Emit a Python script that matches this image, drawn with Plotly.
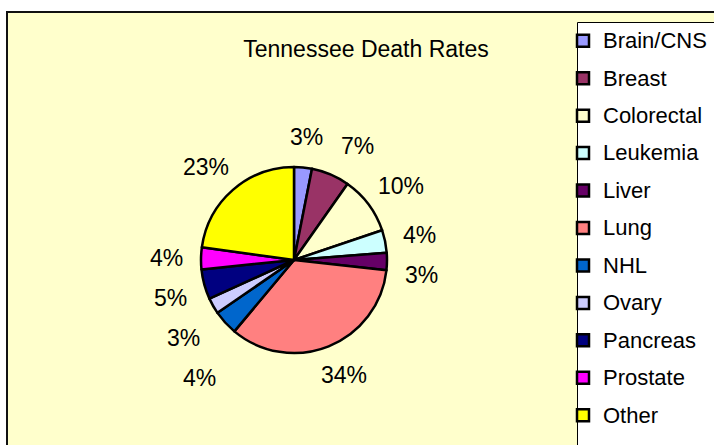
import math
import plotly.graph_objects as go

# ---- data ----
categories = ["Brain/CNS", "Breast", "Colorectal", "Leukemia", "Liver", "Lung",
              "NHL", "Ovary", "Pancreas", "Prostate", "Other"]
death_share = [3.1, 6.65, 10.05, 3.95, 3.0, 34.3, 4.3, 2.8, 5.2, 3.8, 22.8]
slice_colors = ["#9999FF", "#993366", "#FFFFCC", "#CCFFFF", "#660066", "#FF8080",
                "#0066CC", "#CCCCFF", "#000080", "#FF00FF", "#FFFF00"]
title_text = "Tennessee Death Rates"

W, H = 714, 445
FONT = "Arial, 'Liberation Sans', sans-serif"
LABEL_FS = 23


def px(x):
    return x / W


def py(y):
    return 1 - y / H


cx, cy, R = 294, 260, 93

fig = go.Figure()
fig.add_trace(go.Pie(
    labels=[f'<span style="font-size:22px;baseline-shift:3.5px">{c}</span>'
            for c in categories],
    values=death_share,
    sort=False,
    direction="clockwise",
    rotation=0,
    marker=dict(colors=slice_colors, line=dict(color="black", width=2.5)),
    textinfo="none",
    hoverinfo="percent",
    domain=dict(x=[px(cx - R), px(cx + R)], y=[py(cy + R), py(cy - R)]),
))

# ---- Excel-style percentage labels placed outside each slice ----
total = sum(death_share)
labels = []
cum = 0.0
for v in death_share:
    frac = v / total
    theta = 2 * math.pi * (cum + frac / 2)
    cum += frac
    txt = f"{round(frac * 100)}%"
    ndig = len(txt) - 1
    w = (0.556 * ndig + 0.889) * LABEL_FS
    h = 26
    ux, uy = math.sin(theta), -math.cos(theta)
    gap = 18
    x = cx + (R + gap) * ux + ux * w / 2
    y = cy + (R + gap) * uy + uy * h / 2
    labels.append(dict(text=txt, x=x, y=y, w=w))

# de-overlap labels on each side: push downward, then sideways within a row
MIN_DY = 40
MIN_DX = 18
for right in (True, False):
    group = [L for L in labels if (L["x"] >= cx) == right]
    ordered = sorted(group, key=lambda L: L["y"])
    for i in range(1, len(ordered)):
        for j in range(i):
            a, b = ordered[j], ordered[i]
            xo = abs(a["x"] - b["x"]) < (a["w"] + b["w"]) / 2
            if xo and b["y"] - a["y"] < MIN_DY:
                b["y"] = a["y"] + MIN_DY
    for i in range(1, len(group)):
        a, b = group[i - 1], group[i]
        if abs(a["y"] - b["y"]) < 26:
            need = (a["w"] + b["w"]) / 2 + MIN_DX
            sgn = 1 if right else -1
            if sgn * (b["x"] - a["x"]) < need:
                b["x"] = a["x"] + sgn * need

annotations = [
    dict(text=L["text"], x=px(L["x"]), y=py(L["y"]), xref="paper", yref="paper",
         xanchor="center", yanchor="middle", showarrow=False,
         font=dict(family=FONT, size=LABEL_FS, color="black"))
    for L in labels
]

fig.update_layout(
    width=W, height=H,
    margin=dict(l=0, r=0, t=0, b=0),
    paper_bgcolor="white",
    plot_bgcolor="white",
    font=dict(family=FONT, size=22, color="black"),
    title=dict(text=title_text, x=px(366), xanchor="center", y=py(49),
               yanchor="middle", yref="container",
               font=dict(family=FONT, size=23, color="black")),
    showlegend=True,
    legend=dict(x=px(563), xanchor="left", y=py(17), yanchor="top",
                bgcolor="rgba(0,0,0,0)", borderwidth=0,
                font=dict(family=FONT, size=26.5, color="black"),
                traceorder="normal"),
    annotations=annotations,
    shapes=[
        dict(type="rect", xref="paper", yref="paper", layer="below",
             x0=px(7), x1=1.05, y0=-0.05, y1=py(12),
             fillcolor="#FFFFCC", line=dict(color="#111111", width=2)),
        dict(type="rect", xref="paper", yref="paper", layer="below",
             x0=px(577.5), x1=1.05, y0=-0.05, y1=py(22.5),
             fillcolor="white", line=dict(color="black", width=1)),
    ],
)

fig.write_html("out.html")
